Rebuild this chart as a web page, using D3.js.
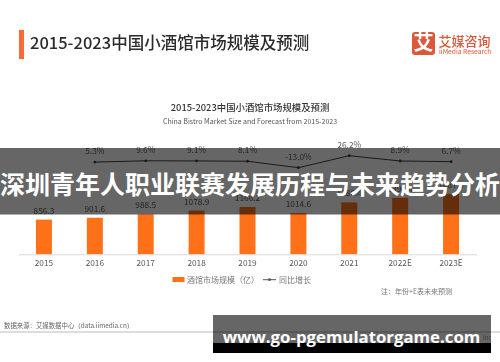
<!DOCTYPE html>
<html>
<head>
<meta charset="utf-8">
<script src="https://cdn.jsdelivr.net/npm/d3@7"></script>
<style>
  html, body { margin: 0; padding: 0; background: #fff; }
  svg { display: block; }
  text { font-family: "Noto Sans CJK SC", "Noto Sans", sans-serif; }
  /* the reference is a soft, resampled image */
  #under { filter: blur(0.35px); }
</style>
</head>
<body>
<svg id="chart" width="500" height="362"></svg>
<script>
// Values
const years = ["2015", "2016", "2017", "2018", "2019", "2020", "2021", "2022E", "2023E"];
const marketSize = [856.3, 901.6, 988.5, 1078.9, 1166.2, 1014.6, 1280.4, 1394.4, 1487.8];
const growthYears = ["2016", "2017", "2018", "2019", "2020", "2021", "2022E", "2023E"];
const growth = [5.3, 9.6, 9.1, 8.1, -13.0, 26.2, 8.9, 6.7];

const orange = "#ff7119";
const grey = "#595959";

const svg = d3.select("#chart");
const g = svg.append("g").attr("id", "under");

// Set up the scales
const x = d3.scaleBand().domain(years).range([18.5, 476.5]).paddingInner(0.686).paddingOuter(0.343);
const y = d3.scaleLinear().domain([0, 1487.8]).range([254.3, 194]);
const yGrowth = d3.scaleLinear().domain([-13, 26.2]).range([167.7, 155.7]);
const cx = d => x(d) + x.bandwidth() / 2;

// Page heading
g.append("rect").attr("x", 19).attr("y", 30).attr("width", 5).attr("height", 29).attr("fill", "#f96a35");
g.append("text").attr("x", 30).attr("y", 49).attr("font-size", 16.5).attr("font-weight", 500).attr("fill", "#2b2b2b")
  .text("2015-2023中国小酒馆市场规模及预测");

// Logo
g.append("rect").attr("x", 412).attr("y", 32).attr("width", 23).attr("height", 23).attr("rx", 3).attr("fill", "#d9593a");
g.append("text").attr("x", 423.5).attr("y", 50).attr("text-anchor", "middle").attr("font-size", 20)
  .attr("font-weight", 700).attr("fill", "#fff").text("艾");
g.append("text").attr("x", 438.5).attr("y", 46).attr("font-size", 13).attr("font-weight", 500)
  .attr("fill", "#d9593a").text("艾媒咨询");
g.append("text").attr("x", 439).attr("y", 54).attr("font-size", 6.7).attr("fill", "#d9593a").text("iiMedia Research");

// Chart titles
g.append("text").attr("x", 250).attr("y", 111).attr("text-anchor", "middle").attr("font-size", 9.4)
  .attr("font-weight", 500).attr("fill", "#333").text("2015-2023中国小酒馆市场规模及预测");
g.append("text").attr("x", 250).attr("y", 124).attr("text-anchor", "middle").attr("font-size", 7)
  .attr("fill", "#555").text("China Bistro Market Size and Forecast from 2015-2023");

// Bars
g.selectAll(".bar").data(years).enter().append("rect")
  .attr("class", "bar")
  .attr("x", d => x(d))
  .attr("y", (d, i) => y(marketSize[i]))
  .attr("width", x.bandwidth())
  .attr("height", (d, i) => y(0) - y(marketSize[i]))
  .attr("fill", orange);

g.selectAll(".bar-label").data(years).enter().append("text")
  .attr("class", "bar-label")
  .attr("x", cx)
  .attr("y", (d, i) => y(marketSize[i]) - 6)
  .attr("text-anchor", "middle").attr("font-size", 8.3).attr("fill", grey)
  .text((d, i) => marketSize[i].toFixed(1));

// Axis
const axis = d3.axisBottom(x).tickSize(0).tickPadding(6);
const axisG = g.append("g").attr("transform", "translate(0," + y(0) + ")").call(axis);
axisG.select(".domain").attr("stroke", "#d9d9d9");
axisG.selectAll("text").attr("font-size", 8.3).attr("fill", grey)
  .style("font-family", '"Noto Sans CJK SC", "Noto Sans", sans-serif');

// Growth line
const line = d3.line().x(d => cx(d)).y((d, i) => yGrowth(growth[i]));
g.append("path").datum(growthYears).attr("d", line)
  .attr("fill", "none").attr("stroke", "#404040").attr("stroke-width", 1);
g.selectAll(".dot").data(growthYears).enter().append("circle")
  .attr("class", "dot")
  .attr("cx", cx).attr("cy", (d, i) => yGrowth(growth[i])).attr("r", 1.4).attr("fill", "#404040");
g.selectAll(".growth-label").data(growthYears).enter().append("text")
  .attr("class", "growth-label")
  .attr("x", cx).attr("y", (d, i) => yGrowth(growth[i]) - 8)
  .attr("text-anchor", "middle").attr("font-size", 8.3).attr("fill", grey)
  .text((d, i) => growth[i].toFixed(1) + "%");

// Legend
g.append("rect").attr("x", 172.5).attr("y", 277).attr("width", 12).attr("height", 5).attr("fill", orange);
g.append("text").attr("x", 187).attr("y", 283).attr("font-size", 8).attr("fill", "#777").text("酒馆市场规模（亿）");
g.append("line").attr("x1", 263).attr("x2", 276).attr("y1", 279.7).attr("y2", 279.7).attr("stroke", "#555");
g.append("circle").attr("cx", 269.5).attr("cy", 279.7).attr("r", 1.4).attr("fill", "#555");
g.append("text").attr("x", 279).attr("y", 283).attr("font-size", 8).attr("fill", "#777").text("同比增长");

// Notes and footer
g.append("text").attr("x", 381).attr("y", 294).attr("font-size", 7).attr("fill", "#777").text("注：年份+E表未来预测");
g.append("text").attr("x", 4).attr("y", 328).attr("font-size", 6.4).attr("fill", "#666").text("数据来源：艾媒数据中心（data.iimedia.cn）");
g.append("line").attr("x1", 0).attr("x2", 500).attr("y1", 332).attr("y2", 332).attr("stroke", "#bbb");
g.append("text").attr("x", 483).attr("y", 340).attr("font-size", 6).attr("fill", "#999").text("Inc");

// Overlay bands on top of the chart
svg.append("rect").attr("x", 0).attr("y", 148).attr("width", 500).attr("height", 66.5).attr("fill", "#000").attr("opacity", 0.6);
svg.append("text").attr("x", 250).attr("y", 194).attr("text-anchor", "middle").attr("font-size", 25)
  .attr("font-weight", 700).attr("fill", "#fff").text("深圳青年人职业联赛发展历程与未来趋势分析");

svg.append("rect").attr("x", 213).attr("y", 315).attr("width", 278).attr("height", 28).attr("fill", "#000").attr("opacity", 0.6);
svg.append("rect").attr("x", 213).attr("y", 343).attr("width", 278).attr("height", 10).attr("fill", "#000");
svg.append("text").attr("x", 351.5).attr("y", 343).attr("text-anchor", "middle").attr("font-size", 16.8)
  .attr("font-weight", 700).attr("fill", "#fff").style("font-family", '"Open Sans", "Noto Sans", sans-serif')
  .text("www.go-pgemulatorgame.com");
</script>
</body>
</html>
